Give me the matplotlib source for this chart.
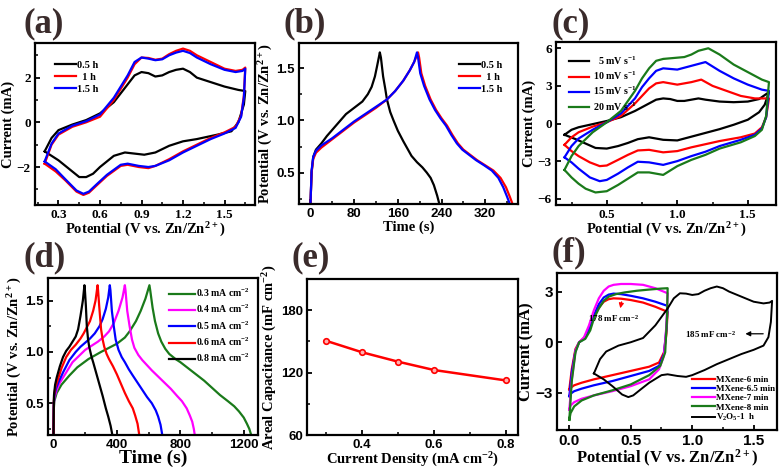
import numpy as np
import matplotlib
matplotlib.use('Agg')
import matplotlib.pyplot as plt

SERIF = 'Liberation Serif'
SANS = 'Liberation Sans'
plt.rcParams['font.family'] = SERIF
plt.rcParams['font.weight'] = 'bold'
plt.rcParams['mathtext.fontset'] = 'custom'
plt.rcParams['mathtext.rm'] = 'Liberation Serif:bold'
plt.rcParams['mathtext.default'] = 'rm'

# ---------------- data ----------------
# (a) CV loops, anodic branch then cathodic branch (V, mA)
a_05h_v = [0.2, 0.25, 0.3, 0.4, 0.5, 0.6, 0.7, 0.8, 0.85, 0.9, 0.95, 1.0, 1.05, 1.1, 1.15, 1.2, 1.25, 1.3, 1.4, 1.5, 1.6, 1.65,
           1.65, 1.64, 1.6, 1.55, 1.45, 1.3, 1.2, 1.1, 1.0, 0.92, 0.85, 0.78, 0.7, 0.6, 0.55, 0.5, 0.45, 0.4, 0.3, 0.25, 0.2]
a_05h_i = [-1.3, -0.7, -0.35, -0.1, 0.1, 0.4, 0.9, 1.7, 2.1, 2.25, 2.2, 2.05, 2.1, 2.25, 2.35, 2.4, 2.25, 2.0, 1.8, 1.6, 1.45, 1.4,
           1.4, 0.8, 0.0, -0.4, -0.55, -0.75, -0.85, -1.05, -1.35, -1.45, -1.4, -1.35, -1.5, -2.0, -2.3, -2.45, -2.45, -2.2, -1.7, -1.5, -1.3]
a_1h_v = [0.2, 0.25, 0.3, 0.4, 0.5, 0.6, 0.7, 0.8, 0.85, 0.9, 0.95, 1.0, 1.05, 1.1, 1.15, 1.2, 1.25, 1.3, 1.4, 1.5, 1.58, 1.63, 1.65,
          1.65, 1.64, 1.62, 1.58, 1.5, 1.4, 1.3, 1.2, 1.1, 1.0, 0.95, 0.88, 0.8, 0.75, 0.65, 0.58, 0.52, 0.48, 0.43, 0.35, 0.28, 0.2]
a_1h_i = [-1.85, -1.0, -0.55, -0.2, 0.0, 0.25, 1.0, 2.0, 2.6, 2.9, 2.88, 2.8, 2.85, 3.05, 3.2, 3.3, 3.2, 3.0, 2.7, 2.4, 2.3, 2.35, 2.45,
          2.45, 1.2, 0.3, -0.2, -0.45, -0.7, -1.0, -1.3, -1.65, -1.95, -2.05, -2.0, -1.9, -1.95, -2.4, -2.8, -3.15, -3.25, -3.1, -2.6, -2.2, -1.85]
a_15h_v = [0.2, 0.25, 0.3, 0.4, 0.5, 0.6, 0.7, 0.8, 0.85, 0.9, 0.95, 1.0, 1.05, 1.1, 1.15, 1.2, 1.25, 1.3, 1.4, 1.5, 1.58, 1.63, 1.65,
           1.65, 1.64, 1.62, 1.58, 1.5, 1.4, 1.3, 1.2, 1.1, 1.0, 0.95, 0.88, 0.8, 0.75, 0.65, 0.58, 0.52, 0.48, 0.43, 0.35, 0.28, 0.2]
a_15h_i = [-1.75, -0.95, -0.5, -0.15, 0.05, 0.35, 1.1, 2.1, 2.7, 2.9, 2.85, 2.78, 2.82, 3.0, 3.12, 3.2, 3.1, 2.9, 2.6, 2.35, 2.25, 2.3, 2.4,
           2.4, 1.1, 0.25, -0.25, -0.5, -0.75, -1.05, -1.35, -1.7, -1.95, -2.0, -1.95, -1.85, -1.9, -2.35, -2.75, -3.1, -3.2, -3.05, -2.55, -2.1, -1.75]

# (b) GCD (s, V)
b_05h_t = [0, 2, 5, 10, 20, 30, 45, 55, 65, 75, 85, 95, 105, 112, 118, 122, 127, 129, 133, 137, 140, 146, 152, 160, 170, 185, 195, 205, 213, 220, 226, 232, 236]
b_05h_v = [0.2, 0.5, 0.65, 0.72, 0.78, 0.85, 0.94, 1.0, 1.06, 1.1, 1.14, 1.18, 1.25, 1.32, 1.42, 1.52, 1.65, 1.6, 1.42, 1.3, 1.2, 1.08, 1.0, 0.9, 0.8, 0.66, 0.6, 0.55, 0.5, 0.45, 0.38, 0.28, 0.2]
b_1h_t = [0, 2, 5, 10, 20, 40, 60, 80, 100, 120, 140, 155, 170, 182, 190, 197, 199, 203, 210, 220, 230, 240, 250, 260, 270, 280, 290, 305, 320, 335, 348, 358, 365, 370]
b_1h_v = [0.2, 0.5, 0.63, 0.69, 0.74, 0.82, 0.9, 0.98, 1.05, 1.12, 1.2, 1.28, 1.38, 1.48, 1.56, 1.65, 1.6, 1.45, 1.33, 1.2, 1.1, 1.02, 0.95, 0.86, 0.78, 0.72, 0.68, 0.62, 0.57, 0.52, 0.45, 0.36, 0.27, 0.2]
b_15h_t = [0, 2, 5, 10, 20, 40, 60, 80, 100, 120, 140, 155, 170, 182, 190, 195, 197, 201, 208, 218, 228, 238, 248, 258, 268, 278, 288, 303, 318, 332, 344, 353, 360, 365]
b_15h_v = [0.2, 0.52, 0.65, 0.71, 0.76, 0.83, 0.91, 0.99, 1.06, 1.13, 1.2, 1.28, 1.38, 1.48, 1.56, 1.65, 1.6, 1.45, 1.33, 1.2, 1.1, 1.02, 0.95, 0.86, 0.78, 0.72, 0.68, 0.62, 0.57, 0.52, 0.45, 0.36, 0.27, 0.2]

# (c) CV at different scan rates
c_5_v = [0.2, 0.25, 0.3, 0.4, 0.5, 0.6, 0.7, 0.8, 0.85, 0.9, 0.95, 1.0, 1.05, 1.1, 1.15, 1.2, 1.3, 1.4, 1.5, 1.58, 1.65,
         1.65, 1.62, 1.58, 1.5, 1.4, 1.3, 1.2, 1.1, 1.0, 0.9, 0.8, 0.72, 0.65, 0.58, 0.5, 0.42, 0.35, 0.28, 0.2]
c_5_i = [-0.9, -0.5, -0.3, -0.05, 0.2, 0.5, 1.0, 1.6, 1.9, 2.0, 1.95, 1.8, 1.8, 1.9, 2.0, 1.9, 1.75, 1.7, 1.75, 1.95, 2.5,
         2.5, 1.5, 0.9, 0.3, -0.1, -0.45, -0.75, -1.05, -1.35, -1.3, -1.1, -1.25, -1.55, -1.8, -2.0, -1.95, -1.6, -1.25, -0.9]
c_10_v = [0.2, 0.25, 0.3, 0.4, 0.5, 0.6, 0.7, 0.75, 0.8, 0.85, 0.9, 0.95, 1.0, 1.05, 1.1, 1.17, 1.25, 1.35, 1.45, 1.55, 1.65,
          1.65, 1.63, 1.6, 1.55, 1.45, 1.3, 1.2, 1.1, 1.0, 0.9, 0.8, 0.72, 0.65, 0.58, 0.5, 0.45, 0.38, 0.3, 0.25, 0.2]
c_10_i = [-1.7, -1.1, -0.7, -0.25, 0.1, 0.6, 1.6, 2.2, 2.8, 3.2, 3.3, 3.2, 3.1, 3.2, 3.3, 3.5, 3.0, 2.6, 2.2, 2.0, 2.0,
          2.0, 0.5, -0.3, -0.8, -1.1, -1.4, -1.65, -1.9, -2.2, -2.3, -2.1, -2.15, -2.5, -2.9, -3.35, -3.4, -3.1, -2.6, -2.2, -1.7]
c_15_v = [0.2, 0.25, 0.3, 0.4, 0.5, 0.6, 0.7, 0.75, 0.8, 0.85, 0.9, 0.95, 1.0, 1.05, 1.1, 1.2, 1.3, 1.4, 1.5, 1.6, 1.65,
          1.65, 1.63, 1.6, 1.55, 1.45, 1.3, 1.2, 1.1, 1.0, 0.9, 0.8, 0.72, 0.65, 0.58, 0.5, 0.45, 0.38, 0.3, 0.25, 0.2]
c_15_i = [-2.7, -1.8, -1.2, -0.5, 0.1, 0.8, 2.0, 2.9, 3.6, 4.2, 4.4, 4.35, 4.3, 4.45, 4.6, 4.9, 4.2, 3.6, 3.1, 2.7, 2.6,
          2.6, 0.5, -0.4, -0.9, -1.3, -1.8, -2.25, -2.6, -3.0, -3.3, -3.1, -3.05, -3.5, -4.0, -4.5, -4.6, -4.3, -3.6, -3.1, -2.7]
c_20_v = [0.2, 0.25, 0.3, 0.4, 0.5, 0.6, 0.7, 0.75, 0.8, 0.85, 0.9, 0.95, 1.05, 1.1, 1.15, 1.22, 1.3, 1.4, 1.5, 1.6, 1.65,
          1.65, 1.63, 1.6, 1.55, 1.45, 1.3, 1.2, 1.1, 1.0, 0.9, 0.8, 0.72, 0.65, 0.58, 0.5, 0.42, 0.35, 0.3, 0.25, 0.2]
c_20_i = [-3.7, -2.6, -1.8, -0.7, 0.1, 1.0, 2.6, 3.6, 4.4, 5.0, 5.15, 5.2, 5.3, 5.5, 5.8, 6.0, 5.5, 4.7, 4.1, 3.5, 3.3,
          3.3, 0.6, -0.5, -1.0, -1.5, -2.0, -2.5, -2.9, -3.4, -4.1, -3.9, -3.9, -4.4, -4.9, -5.4, -5.5, -5.2, -4.8, -4.3, -3.7]

# (d) GCD at different current densities (s, V)
d_03_t = [0, 2, 5, 20, 50, 100, 150, 220, 300, 350, 400, 450, 480, 520, 550, 580, 605, 610, 625, 640, 660, 680, 705, 730, 770, 800, 850, 900, 950, 1000, 1050, 1100, 1140, 1170, 1200, 1220, 1235, 1245]
d_03_v = [0.2, 0.45, 0.52, 0.6, 0.68, 0.77, 0.85, 0.93, 1.0, 1.04, 1.08, 1.14, 1.2, 1.3, 1.4, 1.52, 1.65, 1.6, 1.43, 1.3, 1.18, 1.1, 1.03, 0.98, 0.93, 0.9, 0.84, 0.78, 0.72, 0.65, 0.58, 0.52, 0.47, 0.42, 0.36, 0.3, 0.25, 0.2]
d_04_t = [0, 2, 5, 20, 40, 80, 120, 160, 200, 240, 280, 320, 350, 380, 410, 435, 450, 454, 465, 480, 495, 510, 535, 560, 590, 620, 660, 700, 740, 780, 810, 840, 860, 875, 885, 890]
d_04_v = [0.2, 0.48, 0.55, 0.63, 0.7, 0.8, 0.9, 0.96, 1.02, 1.06, 1.1, 1.15, 1.2, 1.28, 1.4, 1.53, 1.65, 1.6, 1.4, 1.25, 1.12, 1.04, 0.97, 0.92, 0.87, 0.82, 0.76, 0.7, 0.64, 0.57, 0.52, 0.45, 0.38, 0.32, 0.25, 0.2]
d_05_t = [0, 2, 5, 15, 30, 60, 100, 140, 170, 200, 230, 260, 290, 310, 330, 345, 355, 359, 368, 380, 392, 410, 430, 450, 475, 500, 530, 560, 590, 620, 645, 660, 675, 685]
d_05_v = [0.2, 0.5, 0.57, 0.64, 0.7, 0.8, 0.92, 1.0, 1.05, 1.09, 1.13, 1.18, 1.25, 1.32, 1.42, 1.53, 1.65, 1.6, 1.4, 1.25, 1.12, 1.02, 0.95, 0.9, 0.83, 0.77, 0.7, 0.63, 0.56, 0.5, 0.43, 0.37, 0.29, 0.2]
d_06_t = [0, 2, 4, 12, 25, 50, 80, 110, 140, 170, 190, 210, 230, 250, 265, 278, 281, 288, 300, 310, 320, 335, 350, 375, 400, 425, 450, 475, 500, 515, 530, 540]
d_06_v = [0.2, 0.52, 0.58, 0.66, 0.72, 0.84, 0.95, 1.02, 1.07, 1.13, 1.18, 1.24, 1.3, 1.4, 1.5, 1.65, 1.6, 1.45, 1.22, 1.12, 1.05, 0.98, 0.93, 0.86, 0.78, 0.69, 0.6, 0.52, 0.45, 0.38, 0.3, 0.2]
d_08_t = [0, 2, 3, 10, 20, 40, 60, 80, 100, 120, 140, 155, 170, 185, 195, 198, 204, 210, 218, 225, 240, 250, 270, 290, 310, 330, 345, 360, 370]
d_08_v = [0.2, 0.52, 0.58, 0.68, 0.75, 0.86, 0.95, 1.01, 1.05, 1.1, 1.15, 1.22, 1.35, 1.5, 1.65, 1.6, 1.45, 1.25, 1.12, 1.05, 0.95, 0.9, 0.79, 0.68, 0.57, 0.45, 0.37, 0.28, 0.2]

# (e) areal capacitance
e_density = [0.3, 0.4, 0.5, 0.6, 0.8]
e_capacitance = [150.5, 139.5, 130.5, 122.5, 112.5]

# (f) MXene CV loops (V, mA)
f_6_v = [0.0, 0.02, 0.05, 0.08, 0.12, 0.16, 0.2, 0.24, 0.28, 0.32, 0.36, 0.42, 0.5, 0.6, 0.7, 0.8,
         0.8, 0.79, 0.77, 0.73, 0.65, 0.5, 0.35, 0.2, 0.1, 0.04, 0.01, 0.0]
f_6_i = [-2.8, -1.6, -0.4, 0.0, 0.25, 0.8, 1.5, 2.05, 2.4, 2.55, 2.6, 2.58, 2.5, 2.35, 2.1, 1.8,
         1.8, 0.5, -0.6, -1.2, -1.45, -1.7, -1.95, -2.2, -2.4, -2.55, -2.7, -2.8]
f_65_v = [0.0, 0.02, 0.05, 0.08, 0.12, 0.16, 0.2, 0.24, 0.28, 0.32, 0.36, 0.42, 0.5, 0.6, 0.7, 0.8,
          0.8, 0.79, 0.77, 0.73, 0.65, 0.5, 0.35, 0.2, 0.1, 0.04, 0.01, 0.0]
f_65_i = [-3.2, -1.8, -0.5, 0.0, 0.2, 0.8, 1.6, 2.25, 2.65, 2.82, 2.88, 2.85, 2.75, 2.6, 2.4, 2.15,
          2.15, 0.8, -0.7, -1.4, -1.7, -2.0, -2.3, -2.55, -2.75, -2.9, -3.05, -3.2]
f_7_v = [0.0, 0.02, 0.05, 0.08, 0.12, 0.16, 0.2, 0.24, 0.28, 0.32, 0.36, 0.42, 0.5, 0.6, 0.7, 0.8,
         0.8, 0.79, 0.77, 0.73, 0.65, 0.5, 0.35, 0.2, 0.1, 0.04, 0.01, 0.0]
f_7_i = [-4.0, -2.2, -0.5, 0.0, 0.3, 1.0, 1.9, 2.6, 3.05, 3.3, 3.4, 3.45, 3.45, 3.4, 3.2, 2.9,
         2.9, 1.0, -0.8, -1.6, -2.2, -2.6, -2.9, -3.15, -3.35, -3.55, -3.75, -4.0]
f_8_v = [0.0, 0.02, 0.05, 0.08, 0.13, 0.17, 0.2, 0.24, 0.28, 0.32, 0.38, 0.45, 0.55, 0.65, 0.75, 0.8,
         0.8, 0.795, 0.78, 0.74, 0.65, 0.5, 0.35, 0.2, 0.1, 0.04, 0.01, 0.0]
f_8_i = [-4.6, -2.3, -0.6, 0.0, 0.2, 0.7, 1.4, 2.0, 2.45, 2.7, 2.85, 2.95, 3.05, 3.12, 3.18, 3.2,
         3.2, 1.5, -0.6, -1.4, -1.95, -2.5, -2.85, -3.15, -3.45, -3.8, -4.2, -4.6]
f_v2o5_v = a_1h_v
f_v2o5_i = a_1h_i

POT_LABEL = r'Potential (V vs. Zn/Zn$^{2+}$)'
BROWN = '#3a2b2b'


def style_axes(ax, tickfont):
    for s in ax.spines.values():
        s.set_linewidth(1.6)
    ax.tick_params(direction='in', length=3.5, width=1.3, top=False, right=False, labelsize=9.5, pad=3)
    ax.tick_params(which='minor', direction='in', length=2, width=1.1, top=False, right=False)
    for lab in ax.get_xticklabels() + ax.get_yticklabels():
        lab.set_family(tickfont)
        lab.set_weight('bold')


def set_labels(ax, xl, yl, size=10.5):
    ax.set_xlabel(xl, fontsize=size, fontweight='bold', labelpad=0)
    ax.set_ylabel(yl, fontsize=size, fontweight='bold', labelpad=1)


fig = plt.figure(figsize=(7.84, 4.73), dpi=100)

# ---------------- (a) ----------------
ax = fig.add_axes([0.0446, 0.5666, 0.2806, 0.3425])
ax.plot(a_05h_v, a_05h_i, color='black', lw=1.6, label='0.5 h')
ax.plot(a_1h_v, a_1h_i, color='red', lw=1.6, label='  1 h')
ax.plot(a_15h_v, a_15h_i, color='blue', lw=1.6, label='1.5 h')
ax.set_xlim(0.13, 1.72)
ax.set_ylim(-3.7, 3.55)
ax.set_xticks([0.3, 0.6, 0.9, 1.2, 1.5])
ax.set_xticks([0.15, 0.45, 0.75, 1.05, 1.35, 1.65], minor=True)
ax.set_yticks([-2, 0, 2])
ax.set_yticks([-3, -1, 1, 3], minor=True)
set_labels(ax, POT_LABEL, 'Current (mA)')
style_axes(ax, SERIF)
ax.legend(loc='upper left', bbox_to_anchor=(0.05, 0.95), frameon=False, handlelength=2.0, handletextpad=0.1,
          labelspacing=0.25, prop={'family': SERIF, 'weight': 'bold', 'size': 7.5})

# ---------------- (b) ----------------
ax = fig.add_axes([0.3814, 0.5687, 0.2793, 0.3404])
ax.plot(b_05h_t, b_05h_v, color='black', lw=1.6, label='0.5 h')
ax.plot(b_1h_t, b_1h_v, color='red', lw=1.6, label='  1 h')
ax.plot(b_15h_t, b_15h_v, color='blue', lw=1.6, label='1.5 h')
ax.set_xlim(-21, 380)
ax.set_ylim(0.2, 1.74)
ax.set_xticks([0, 80, 160, 240, 320])
ax.set_xticks([40, 120, 200, 280, 360], minor=True)
ax.set_yticks([0.5, 1.0, 1.5])
ax.set_yticks([0.25, 0.75, 1.25], minor=True)
set_labels(ax, 'Time (s)', POT_LABEL)
style_axes(ax, SANS)
ax.legend(loc='upper right', bbox_to_anchor=(0.97, 0.95), frameon=False, handlelength=2.0, handletextpad=0.1,
          labelspacing=0.25, prop={'family': SERIF, 'weight': 'bold', 'size': 7.5})

# ---------------- (c) ----------------
ax = fig.add_axes([0.7092, 0.5666, 0.2806, 0.3446])
ax.plot(c_5_v, c_5_i, color='black', lw=1.6, label=r'  5 mV s$^{-1}$')
ax.plot(c_10_v, c_10_i, color='red', lw=1.6, label=r'10 mV s$^{-1}$')
ax.plot(c_15_v, c_15_i, color='blue', lw=1.6, label=r'15 mV s$^{-1}$')
ax.plot(c_20_v, c_20_i, color='#1a7a1a', lw=1.6, label=r'20 mV s$^{-1}$')
ax.set_xlim(0.14, 1.70)
ax.set_ylim(-6.5, 6.5)
ax.set_xticks([0.5, 1.0, 1.5])
ax.set_xticks([0.25, 0.75, 1.25], minor=True)
ax.set_yticks([-6, -3, 0, 3, 6])
set_labels(ax, POT_LABEL, 'Current (mA)')
style_axes(ax, SERIF)
ax.legend(loc='upper left', bbox_to_anchor=(0.02, 0.98), frameon=False, handlelength=2.0, handletextpad=0.35,
          labelspacing=0.3, prop={'family': SERIF, 'weight': 'bold', 'size': 7.2})

# ---------------- (d) ----------------
ax = fig.add_axes([0.0612, 0.0803, 0.2679, 0.3319])
ax.plot(d_03_t, d_03_v, color='#1a7a1a', lw=1.6, label=r'0.3 mA cm$^{-2}$')
ax.plot(d_04_t, d_04_v, color='#ff00ff', lw=1.6, label=r'0.4 mA cm$^{-2}$')
ax.plot(d_05_t, d_05_v, color='blue', lw=1.6, label=r'0.5 mA cm$^{-2}$')
ax.plot(d_06_t, d_06_v, color='red', lw=1.6, label=r'0.6 mA cm$^{-2}$')
ax.plot(d_08_t, d_08_v, color='black', lw=1.6, label=r'0.8 mA cm$^{-2}$')
ax.set_xlim(-35, 1290)
ax.set_ylim(0.19, 1.72)
ax.set_xticks([0, 400, 800, 1200])
ax.set_xticks([200, 600, 1000], minor=True)
ax.set_yticks([0.5, 1.0, 1.5])
ax.set_yticks([0.25, 0.75, 1.25], minor=True)
ax.set_xlabel('Time (s)', fontsize=14, fontweight='bold', labelpad=-1)
ax.set_ylabel(POT_LABEL, fontsize=10.5, fontweight='bold', labelpad=1)
style_axes(ax, SANS)
ax.legend(loc='upper right', bbox_to_anchor=(1.0, 1.0), frameon=False, handlelength=2.6, handletextpad=0.1,
          labelspacing=0.4, prop={'family': SERIF, 'weight': 'bold', 'size': 7})

# ---------------- (e) ----------------
ax = fig.add_axes([0.3916, 0.0803, 0.2691, 0.3298])
ax.plot(e_density, e_capacitance, color='red', lw=1.8, marker='o', markersize=4,
        markerfacecolor='#ffb0b0', markeredgecolor='red', markeredgewidth=1.2)
ax.set_xlim(0.246, 0.834)
ax.set_ylim(60, 210)
ax.set_xticks([0.4, 0.6, 0.8])
ax.set_xticks([0.3, 0.5, 0.7], minor=True)
ax.set_yticks([60, 120, 180])
ax.set_yticks([90, 150], minor=True)
set_labels(ax, r'Current Density (mA cm$^{-2}$)', r'Areal Capacitance (mF cm$^{-2}$)')
style_axes(ax, SANS)

# ---------------- (f) ----------------
ax = fig.add_axes([0.7105, 0.0909, 0.2806, 0.3319])
ax.plot(f_6_v, f_6_i, color='red', lw=1.6, label='MXene-6 min')
ax.plot(f_65_v, f_65_i, color='blue', lw=1.6, label='MXene-6.5 min')
ax.plot(f_7_v, f_7_i, color='#ff00ff', lw=1.6, label='MXene-7 min')
ax.plot(f_8_v, f_8_i, color='#1a7a1a', lw=1.6, label='MXene-8 min')
ax.plot(f_v2o5_v, f_v2o5_i, color='black', lw=1.4, label=r'V$_2$O$_5$-1  h')
ax.set_xlim(-0.1, 1.69)
ax.set_ylim(-5.2, 4.1)
ax.set_xticks([0.0, 0.5, 1.0, 1.5])
ax.set_xticks([0.25, 0.75, 1.25], minor=True)
ax.set_yticks([-3, 0, 3])
set_labels(ax, POT_LABEL, 'Current (mA)', size=12)
style_axes(ax, SANS)
ax.tick_params(labelsize=11)
ax.annotate('', xy=(0.41, 1.85), xytext=(0.43, 2.55),
            arrowprops=dict(arrowstyle='-|>', color='red', lw=0.9, mutation_scale=7))
ax.text(0.36, 1.4, r'178 mF cm$^{-2}$', fontsize=6.5, fontweight='bold', ha='center', va='center')
ax.text(1.15, 0.45, r'185 mF cm$^{-2}$', fontsize=6.5, fontweight='bold', ha='center', va='center')
ax.annotate('', xy=(1.41, 0.5), xytext=(1.6, 0.5),
            arrowprops=dict(arrowstyle='-|>', color='black', lw=0.9, mutation_scale=7))
ax.legend(loc='lower right', bbox_to_anchor=(1.03, -0.01), frameon=False, handlelength=2.6, handletextpad=0.1,
          labelspacing=0.08, prop={'family': SERIF, 'weight': 'bold', 'size': 6.5})

# panel letters
for lab, x, y in [('(a)', 0.03, 0.915), ('(b)', 0.362, 0.915), ('(c)', 0.703, 0.915),
                  ('(d)', 0.03, 0.42), ('(e)', 0.372, 0.42), ('(f)', 0.703, 0.43)]:
    fig.text(x, y, lab, fontsize=25, fontweight='bold', color=BROWN, family=SERIF, va='bottom')

fig.savefig('out.png', dpi=100)
